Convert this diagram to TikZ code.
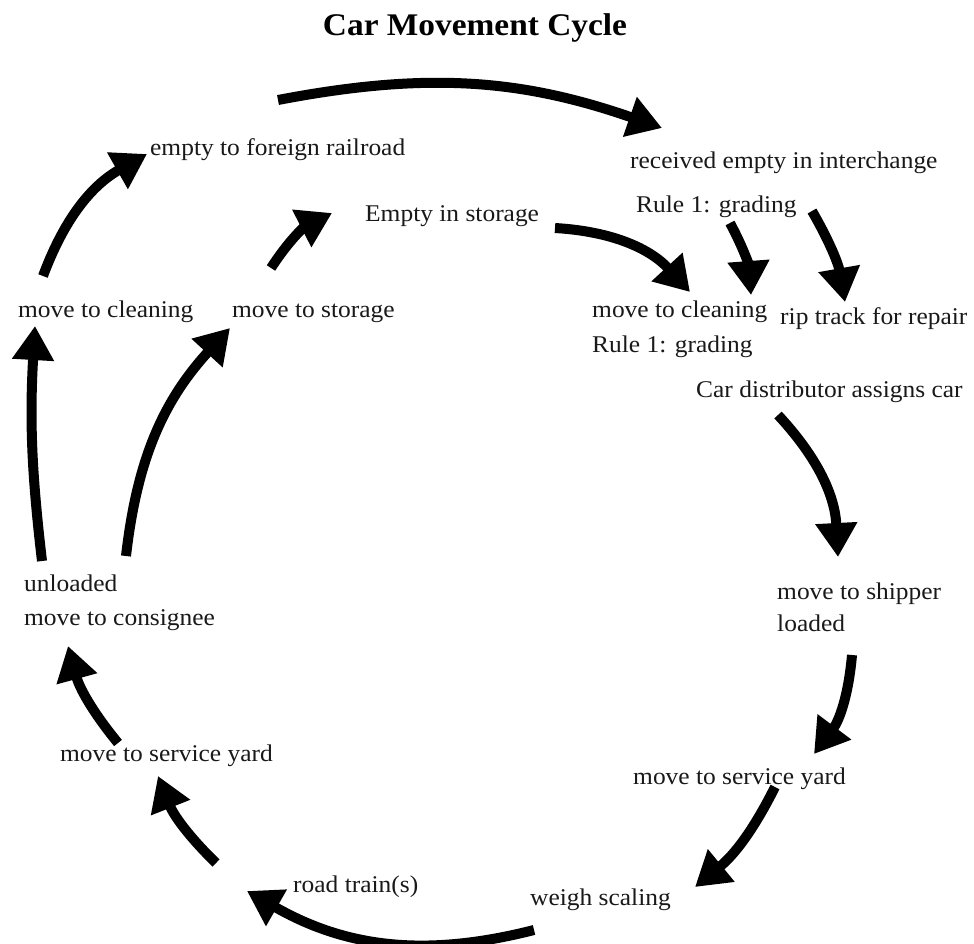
\documentclass[tikz,border=0pt]{standalone}
\usepackage{fontspec}
\setmainfont{Liberation Serif}[FakeStretch=1.06]
\usetikzlibrary{arrows.meta}
\begin{document}
\begin{tikzpicture}[x=1pt,y=-1pt,
  lbl/.style={anchor=base west,inner sep=0pt,font=\fontsize{24}{28}\selectfont,text=black!90},
  flow/.style={line width=10pt,-{Triangle[width=40pt,length=34pt]}},
]
\fill[white] (0,0) rectangle (974,943);
\useasboundingbox (0,0) rectangle (974,943);

\node[anchor=base,inner sep=0pt,font=\fontsize{31.5}{36}\bfseries\selectfont] (title) at (475,35) {Car Movement Cycle};

\node[lbl] (efr) at (150,155) {empty to foreign railroad};
\node[lbl] (rei) at (630,168) {received empty in interchange};
\node[lbl] (r1a) at (636,212) {Rule 1: grading};
\node[lbl] (eis) at (365,221) {Empty in storage};
\node[lbl] (mcl) at (18,317) {move to cleaning};
\node[lbl] (mst) at (232,317) {move to storage};
\node[lbl] (mcr) at (592,317) {move to cleaning};
\node[lbl] (r1b) at (592,352) {Rule 1: grading};
\node[lbl] (rip) at (780,324) {rip track for repair};
\node[lbl] (cda) at (696,397) {Car distributor assigns car};
\node[lbl] (mts) at (777,599) {move to shipper};
\node[lbl] (ldd) at (777,631) {loaded};
\node[lbl] (msr) at (633,784) {move to service yard};
\node[lbl] (wsc) at (530,905) {weigh scaling};
\node[lbl] (rtr) at (293,892) {road train(s)};
\node[lbl] (msl) at (60,761) {move to service yard};
\node[lbl] (unl) at (24,591) {unloaded};
\node[lbl] (mco) at (24,625) {move to consignee};

\coordinate (a1s) at (278,100);  \coordinate (a1e) at (662,128);
\coordinate (a2s) at (43,276);   \coordinate (a2e) at (147,154);
\coordinate (a3s) at (271,268);  \coordinate (a3e) at (332,213);
\coordinate (a4s) at (555,228);  \coordinate (a4e) at (690,292);
\coordinate (a5s) at (730,223);  \coordinate (a5e) at (751,295);
\coordinate (a6s) at (812,211);  \coordinate (a6e) at (845,302);
\coordinate (a7s) at (778,415);  \coordinate (a7e) at (838,557);
\coordinate (a8s) at (852,655);  \coordinate (a8e) at (814,754);
\coordinate (a9s) at (775,787);  \coordinate (a9e) at (695,887);
\coordinate (b0s) at (534,930);  \coordinate (b0e) at (247,891);
\coordinate (b1s) at (216,863);  \coordinate (b1e) at (158,776);
\coordinate (b2s) at (118,743);  \coordinate (b2e) at (68,646);
\coordinate (b3s) at (42,561);   \coordinate (b3e) at (35,326);
\coordinate (b4s) at (126,556);  \coordinate (b4e) at (230,328);

\draw[flow] (a1s) to[bend left=15] (a1e);
\draw[flow] (a2s) to[bend left=20] (a2e);
\draw[flow] (a3s) to[bend left=15] (a3e);
\draw[flow] (a4s) to[bend left=22] (a4e);
\draw[flow] (a5s) to[bend left=12] (a5e);
\draw[flow] (a6s) to[bend left=10] (a6e);
\draw[flow] (a7s) to[bend left=20] (a7e);
\draw[flow] (a8s) to[bend left=16] (a8e);
\draw[flow] (a9s) to[bend left=12] (a9e);
\draw[flow] (b0s) to[bend left=22] (b0e);
\draw[flow] (b1s) to[bend left=12] (b1e);
\draw[flow] (b2s) to[bend left=12] (b2e);
\draw[flow] (b3s) to[bend left=5] (b3e);
\draw[flow] (b4s) to[bend left=18] (b4e);
\end{tikzpicture}
\end{document}
